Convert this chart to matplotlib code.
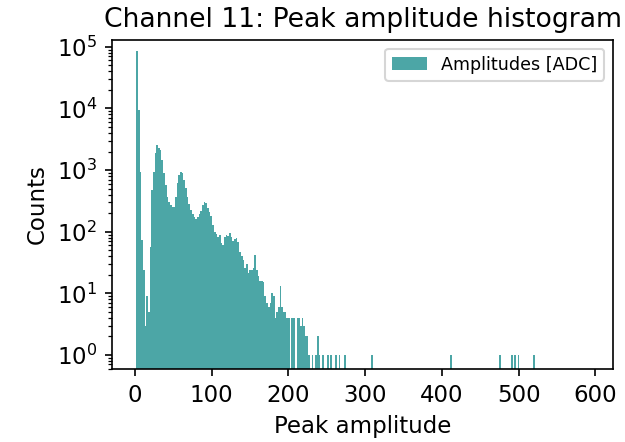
"""Peak amplitude histogram for channel 11 on a log count scale."""
import matplotlib

matplotlib.use("Agg")
import matplotlib.pyplot as plt
import numpy as np

CHANNEL = 11
BIN_START = 1.6
BIN_WIDTH = 2.2
N_BINS = 270

# counts for the densely populated bins, starting at BIN_START
COUNTS = [
    84000, 9500, 935, 74, 24, 3, 9, 5, 57, 475,
    935, 1900, 2560, 2300, 2130, 1470, 900, 575, 367, 305,
    272, 253, 253, 367, 620, 835, 935, 900, 690, 515,
    367, 280, 226, 195, 175, 162, 175, 195, 218, 272,
    305, 294, 245, 210, 180, 129, 99, 92, 82, 88,
    66, 61, 82, 88, 85, 95, 82, 71, 76, 79,
    68, 47, 40, 35, 26, 30, 21, 24, 24, 26,
    42, 24, 19, 16, 16, 15, 9, 7, 6, 7,
    10, 9, 4, 5, 6, 13, 6, 5, 5, 4,
    4, 0, 4, 4, 0, 4, 4, 3, 4, 3,
    2, 2, 1, 0, 1, 0, 1, 2, 1, 0,
    1, 0, 0, 1, 0, 1, 0, 0, 1, 0,
    1, 0, 0, 1,
]
# isolated high-amplitude peaks in the sparse tail
TAIL_AMPLITUDES = [307.7, 412.0, 476.0, 491.0, 495.0, 499.5, 519.0]

edges = BIN_START + BIN_WIDTH * np.arange(N_BINS + 1)
counts = np.zeros(N_BINS)
counts[: len(COUNTS)] = COUNTS
counts += np.histogram(TAIL_AMPLITUDES, bins=edges)[0]

plt.rcParams["font.size"] = 11
fig = plt.figure(figsize=(625 / 150, 442 / 150), dpi=150)
ax = fig.add_axes([0.179, 0.165, 0.802, 0.745])
ax.hist(edges[:-1], bins=edges, weights=counts, color="teal", alpha=0.7,
        label="Amplitudes [ADC]")
ax.set_yscale("log")
ax.set_xlim(-30, 623)
ax.set_ylim(0.59, 1.3e5)
ax.set_xticks([0, 100, 200, 300, 400, 500, 600])
ax.set_xlabel("Peak amplitude")
ax.set_ylabel("Counts")
ax.set_title(f"Channel {CHANNEL}: Peak amplitude histogram", fontsize=12.8)
ax.legend(loc="upper right", fontsize=8.4)
fig.savefig("out.png", dpi=150)
